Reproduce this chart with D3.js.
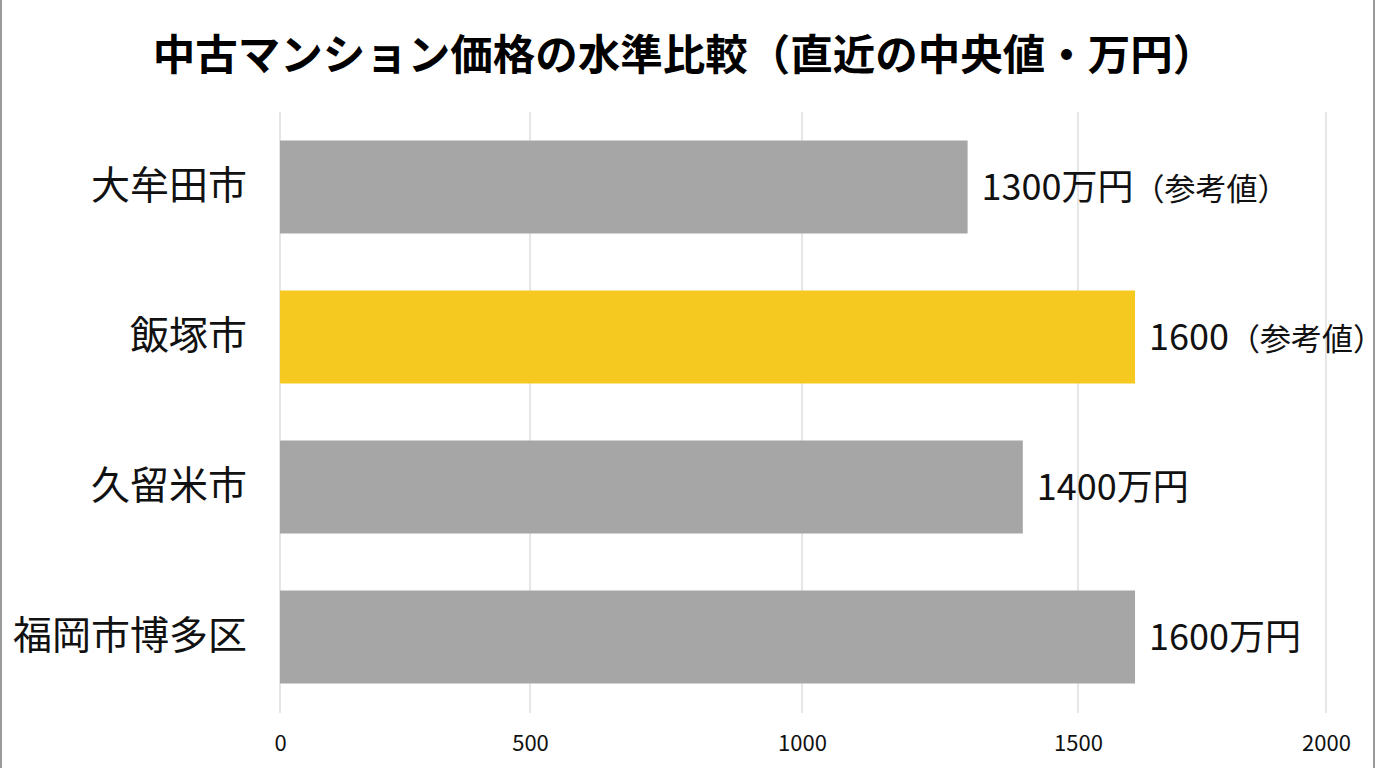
<!DOCTYPE html>
<html lang="ja">
<head>
<meta charset="utf-8">
<script src="https://cdn.jsdelivr.net/npm/d3@7"></script>
<style>
  html, body { margin: 0; padding: 0; background: #fff; }
  svg { display: block; font-family: "Noto Sans CJK JP", "Noto Sans", sans-serif; }
</style>
</head>
<body>
<svg id="chart" width="1376" height="768"></svg>
<script>
const title = "中古マンション価格の水準比較（直近の中央値・万円）";
const categories = ["大牟田市", "飯塚市", "久留米市", "福岡市博多区"];
const values = [1300, 1615, 1400, 1615];
const valueLabels = ["1300万円", "1600", "1400万円", "1600万円"];
const valueNotes = ["（参考値）", "（参考値）", "", ""];
const highlight = [false, true, false, false];
const tickValues = [0, 500, 1000, 1500, 2000];
const tickLabels = ["0", "500", "1000", "1500", "2000"];

const W = 1376, H = 768;
const svg = d3.select("#chart");

// frame edges
svg.append("line").attr("x1", 1).attr("x2", 1).attr("y1", 0).attr("y2", H)
  .attr("stroke", "#9a9a9a").attr("stroke-width", 2);
svg.append("line").attr("x1", 1374).attr("x2", 1374).attr("y1", 0).attr("y2", H)
  .attr("stroke", "#9a9a9a").attr("stroke-width", 2);

const x = d3.scaleLinear()
  .domain(tickValues)
  .range([280, 530, 802, 1078, 1326]);

const y = d3.scaleBand()
  .domain(categories)
  .range([112, 712])
  .paddingInner(0.38)
  .paddingOuter(0.19);

// gridlines
svg.append("g").selectAll("line").data(tickValues).join("line")
  .attr("x1", d => x(d)).attr("x2", d => x(d))
  .attr("y1", 112).attr("y2", 713)
  .attr("stroke", "#d6d6d6").attr("stroke-width", 1.2);

// x axis tick labels
const xAxis = d3.axisBottom(x).tickValues(tickValues)
  .tickFormat((d, i) => tickLabels[i]).tickSize(0).tickPadding(0);
const gx = svg.append("g").attr("transform", "translate(0,735)").call(xAxis);
gx.select(".domain").remove();
gx.selectAll("text").attr("font-size", 22).attr("fill", "#111")
  .attr("font-family", "'Noto Sans CJK JP', sans-serif");

// bars
svg.append("g").selectAll("rect").data(categories).join("rect")
  .attr("x", x(0))
  .attr("y", d => y(d))
  .attr("width", (d, i) => x(values[i]) - x(0))
  .attr("height", y.bandwidth())
  .attr("fill", (d, i) => highlight[i] ? "#f5c920" : "#a6a6a6");

// category labels
const yAxis = d3.axisLeft(y).tickSize(0).tickPadding(0);
const gy = svg.append("g").attr("transform", "translate(247,0)").call(yAxis);
gy.select(".domain").remove();
gy.selectAll("text").attr("font-size", 39).attr("fill", "#111")
  .attr("font-family", "'Noto Sans CJK JP', sans-serif");

// value labels
const vl = svg.append("g").selectAll("text").data(categories).join("text")
  .attr("x", (d, i) => x(values[i]) + 14)
  .attr("y", d => y(d) + y.bandwidth() / 2)
  .attr("font-size", 36)
  .attr("dy", "0.36em")
  .attr("fill", "#111");
vl.append("tspan").attr("font-size", 36).text((d, i) => valueLabels[i]);
vl.append("tspan").attr("font-size", 31).text((d, i) => valueNotes[i]);

// title
svg.append("text")
  .attr("x", W / 2 - 4).attr("y", 55)
  .attr("dy", "0.36em")
  .attr("text-anchor", "middle")
  .attr("font-size", 42.5)
  .attr("font-weight", "bold")
  .attr("fill", "#000")
  .text(title);
</script>
</body>
</html>
